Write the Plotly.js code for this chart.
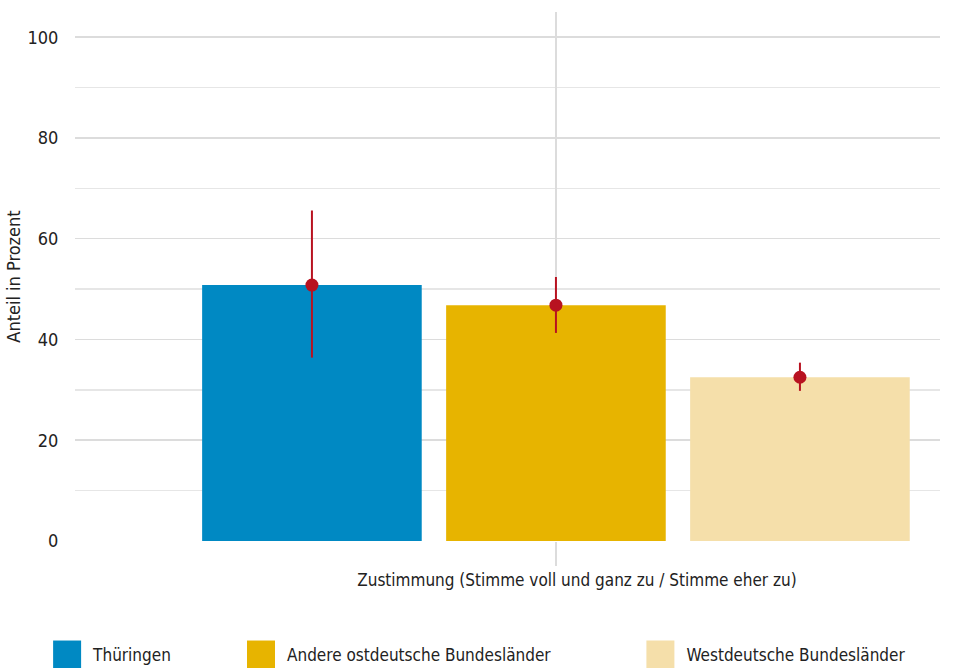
<!DOCTYPE html>
<html><head><meta charset="utf-8">
<script src="https://cdn.plot.ly/plotly-3.0.1.min.js"></script>
<style>html,body{margin:0;padding:0;background:#fff}#chart{width:956px;height:668px}</style>
</head><body><div id="chart"></div>
<script>
const groups = ["Thüringen", "Andere ostdeutsche Bundesländer", "Westdeutsche Bundesländer"];
const category = "Zustimmung (Stimme voll und ganz zu / Stimme eher zu)";
const shares = [50.8, 46.8, 32.5];
const ciLow = [36.4, 41.3, 29.8];
const ciHigh = [65.6, 52.4, 35.4];
const colors = ["#0089c3", "#e7b400", "#f5dfaa"];
const errColor = "#b81220";
const FONT = "'Liberation Sans Narrow', 'DejaVu Sans Condensed', 'Roboto', sans-serif";

const traces = [];
const legendIds = ["legend", "legend2", "legend3"];
groups.forEach((g, i) => {
  const x = i - 1;
  traces.push({
    type: "bar", x: [x], y: [shares[i]], width: 0.9, name: g,
    marker: {color: colors[i]}, legend: legendIds[i], hoverinfo: "skip"
  });
  traces.push({
    type: "scatter", mode: "markers", x: [x], y: [shares[i]], showlegend: false,
    marker: {color: errColor, size: 13},
    error_y: {type: "data", symmetric: false, array: [ciHigh[i] - shares[i]], arrayminus: [shares[i] - ciLow[i]],
              color: errColor, thickness: 2, width: 0}
  });
});

const legBase = {orientation: "h", xref: "container", yref: "container", yanchor: "middle", y: 0.0195,
  font: {family: FONT, size: 17, color: "#222"}, itemwidth: 42, bgcolor: "rgba(0,0,0,0)"};

const layout = {
  width: 956, height: 668,
  margin: {l: 75, r: 16, t: 12, b: 127},
  paper_bgcolor: "#fff", plot_bgcolor: "#fff",
  font: {family: FONT, size: 16, color: "#222"},
  barmode: "overlay",
  xaxis: {range: [-1.971, 1.574], tickvals: [0], ticktext: [category], showgrid: true,
          gridcolor: "#dcdcdc", gridwidth: 1.5, ticks: "outside", ticklen: 24, tickcolor: "#dcdcdc",
          tickwidth: 1.5, zeroline: false, showline: false, tickfont: {size: 17}, ticklabelshift: 21},
  yaxis: {range: [0, 105], tickvals: [0, 20, 40, 60, 80, 100], showgrid: true, gridcolor: "#dcdcdc", gridwidth: 1.5,
          minor: {dtick: 10, tick0: 0, showgrid: true, gridcolor: "#e6e6e6", gridwidth: 1.5},
          zeroline: false, showline: false, ticks: "outside", ticklen: 12, tickcolor: "rgba(0,0,0,0)",
          tickfont: {size: 18},
          title: {text: "Anteil in Prozent", font: {size: 18}, standoff: 2}},
  showlegend: true,
  legend: Object.assign({}, legBase, {x: 0.043}),
  legend2: Object.assign({}, legBase, {x: 0.2458}),
  legend3: Object.assign({}, legBase, {x: 0.6636})
};
Plotly.newPlot("chart", traces, layout, {displayModeBar: false, staticPlot: true}).then(gd => {
  gd.querySelectorAll(".legendpoints path").forEach(p => p.setAttribute("d", "M14,14H-14V-14H14Z"));
});
</script></body></html>
